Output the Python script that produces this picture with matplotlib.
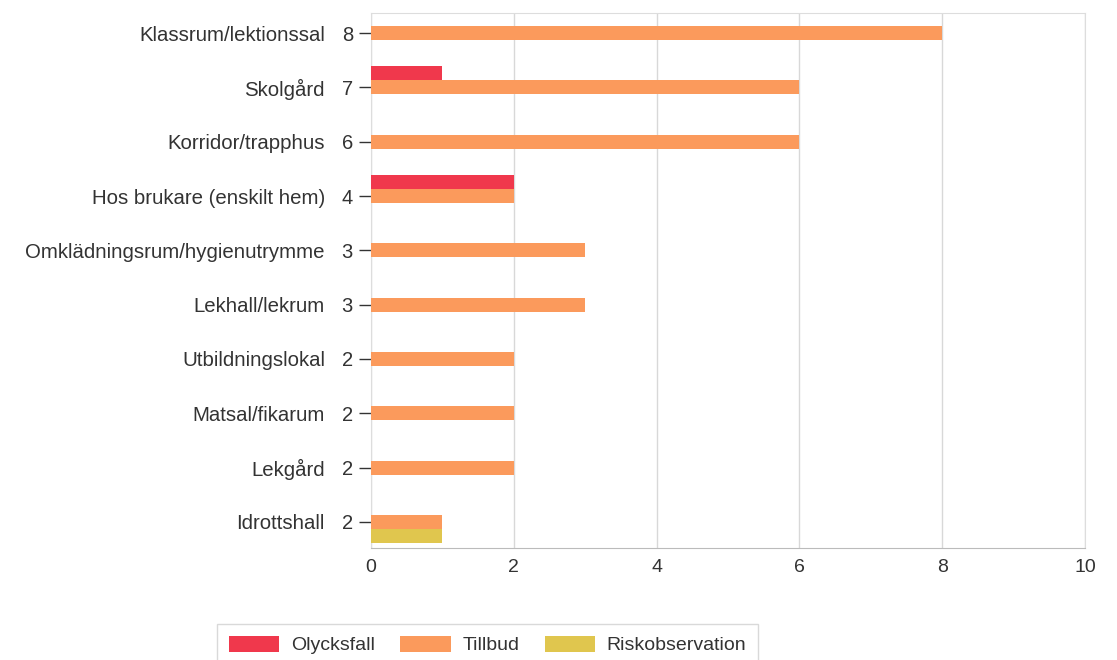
import numpy as np
import matplotlib
matplotlib.use('Agg')
import matplotlib.pyplot as plt
from matplotlib.patches import Patch

plt.rcParams['font.family'] = ['Liberation Sans', 'DejaVu Sans']

# categories, top to bottom
PLACES = ['Klassrum/lektionssal', 'Skolgård', 'Korridor/trapphus',
          'Hos brukare (enskilt hem)', 'Omklädningsrum/hygienutrymme',
          'Lekhall/lekrum', 'Utbildningslokal', 'Matsal/fikarum',
          'Lekgård', 'Idrottshall']
OLYCKSFALL      = [0, 1, 0, 2, 0, 0, 0, 0, 0, 0]
TILLBUD         = [8, 6, 6, 2, 3, 3, 2, 2, 2, 1]
RISKOBSERVATION = [0, 0, 0, 0, 0, 0, 0, 0, 0, 1]
TOTALS          = [8, 7, 6, 4, 3, 3, 2, 2, 2, 2]
XTICKS = [0, 2, 4, 6, 8, 10]

# (values, label, colour, slot offset relative to the tick)
SERIES = [
    (OLYCKSFALL,      'Olycksfall',      '#f0384c', -1),
    (TILLBUD,         'Tillbud',         '#fb9a5c',  0),
    (RISKOBSERVATION, 'Riskobservation', '#e0c64e',  1),
]

W, H = 1117, 660
fig = plt.figure(figsize=(W / 100, H / 100), dpi=100)
ax = fig.add_axes([371 / W, 1 - 548 / H, (1085 - 371) / W, (548 - 13) / H])

y = np.arange(len(PLACES))
slot = 0.26
for vals, lab, col, off in SERIES:
    v = np.asarray(vals, float)
    m = v > 0
    ax.barh(y[m] + off * slot, v[m], height=slot, color=col, lw=0, zorder=3)

ax.set_xlim(0, 10)
ax.set_ylim(len(PLACES) - 1 + 0.48, -0.37)
ax.set_xticks(XTICKS)
ax.set_yticks(y)
ax.set_yticklabels([str(t) for t in TOTALS])
ax.grid(axis='x', color='#d8d8d8', lw=1, zorder=0)
ax.tick_params(axis='y', length=9, width=1, color='#333333', pad=4,
               labelsize=14.5, labelcolor='#333333')
ax.tick_params(axis='x', length=0, pad=8, labelsize=14, labelcolor='#333333')
for s in ['top', 'right', 'left']:
    ax.spines[s].set_color('#dddddd')
ax.spines['bottom'].set_color('#bbbbbb')

for yi, name in zip(y, PLACES):
    ax.annotate(name, xy=(0, yi), xycoords=('axes fraction', 'data'),
                xytext=(-46, 0), textcoords='offset pixels',
                ha='right', va='center_baseline', fontsize=14.7,
                color='#333333')

handles = [Patch(facecolor=c, edgecolor='none', label=l) for _, l, c, _ in SERIES]
leg = fig.legend(handles=handles, loc='upper left',
                 bbox_to_anchor=(217 / W, 1 - 624 / H), ncol=3,
                 frameon=True, fancybox=False, fontsize=14,
                 handlelength=2.6, handleheight=0.9, columnspacing=1.3,
                 handletextpad=0.6, borderaxespad=0, borderpad=0.6)
leg.get_frame().set_edgecolor('#d0d0d0')
leg.get_frame().set_linewidth(1)
for t in leg.get_texts():
    t.set_color('#333333')

fig.savefig('out.png', dpi=100)
